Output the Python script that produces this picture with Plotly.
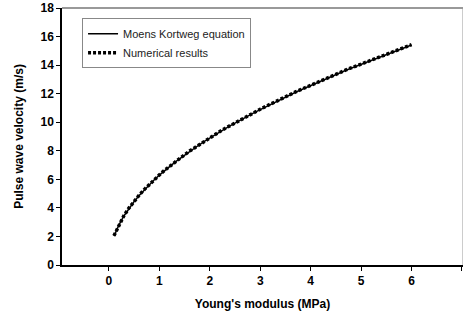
import plotly.graph_objects as go

modulus = [0.1, 0.2, 0.3, 0.4, 0.5, 0.6, 0.7, 0.8, 0.9, 1.0,
           1.1, 1.2, 1.3, 1.4, 1.5, 1.6, 1.7, 1.8, 1.9, 2.0,
           2.1, 2.2, 2.3, 2.4, 2.5, 2.6, 2.7, 2.8, 2.9, 3.0,
           3.1, 3.2, 3.3, 3.4, 3.5, 3.6, 3.7, 3.8, 3.9, 4.0,
           4.1, 4.2, 4.3, 4.4, 4.5, 4.6, 4.7, 4.8, 4.9, 5.0,
           5.1, 5.2, 5.3, 5.4, 5.5, 5.6, 5.7, 5.8, 5.9, 6.0]
moens_korteweg = [2.02, 2.81, 3.45, 3.98, 4.45, 4.87, 5.26, 5.63, 5.97, 6.29,
                  6.60, 6.89, 7.17, 7.44, 7.70, 7.96, 8.20, 8.44, 8.67, 8.90,
                  9.11, 9.33, 9.54, 9.74, 9.95, 10.14, 10.34, 10.52, 10.71, 10.89,
                  11.07, 11.25, 11.43, 11.60, 11.77, 11.93, 12.10, 12.26, 12.42, 12.58,
                  12.74, 12.89, 13.04, 13.19, 13.34, 13.49, 13.64, 13.78, 13.92, 14.06,
                  14.20, 14.34, 14.48, 14.62, 14.75, 14.88, 15.02, 15.15, 15.28, 15.41]
numerical = [2.05, 2.83, 3.47, 4.00, 4.47, 4.89, 5.28, 5.65, 5.99, 6.31,
             6.62, 6.91, 7.19, 7.46, 7.72, 7.98, 8.22, 8.46, 8.69, 8.92,
             9.13, 9.35, 9.56, 9.76, 9.97, 10.16, 10.36, 10.54, 10.73, 10.91,
             11.09, 11.27, 11.45, 11.62, 11.79, 11.95, 12.12, 12.28, 12.44, 12.60,
             12.76, 12.91, 13.06, 13.21, 13.36, 13.51, 13.66, 13.80, 13.94, 14.08,
             14.22, 14.36, 14.50, 14.64, 14.77, 14.90, 15.04, 15.17, 15.30, 15.43]

x_ticks = [0, 1, 2, 3, 4, 5, 6, 7]
y_ticks = [0, 2, 4, 6, 8, 10, 12, 14, 16, 18]

fig = go.Figure()
fig.add_trace(go.Scatter(x=modulus, y=moens_korteweg, mode="lines",
                         name="Moens Kortweg equation",
                         line=dict(color="black", width=1.5)))
fig.add_trace(go.Scatter(x=modulus, y=numerical, mode="lines",
                         name="Numerical results",
                         line=dict(color="black", width=3.5, dash="3px,2px")))

font_main = "Arial, Liberation Sans, sans-serif"
fig.update_layout(
    width=463, height=314,
    margin=dict(l=62, r=0, t=8, b=49),
    plot_bgcolor="white", paper_bgcolor="white",
    showlegend=True,
    legend=dict(x=0.05, y=0.96, xanchor="left", yanchor="top",
                bgcolor="white", bordercolor="#888", borderwidth=1,
                font=dict(family=font_main, size=11, color="#222"),
                tracegroupgap=0, itemwidth=30),
    xaxis=dict(range=[-0.93, 7.02], tickvals=x_ticks, ticks="outside", ticklen=4,
               tickcolor="black", showline=True, linecolor="black", linewidth=1.5,
               showgrid=False, zeroline=False, automargin=False,
               tickfont=dict(family=font_main, size=12, color="black", weight="bold"),
               title=dict(text="Young's modulus (MPa)", standoff=12,
                          font=dict(family=font_main, size=12, color="black", weight="bold"))),
    yaxis=dict(range=[0, 18], tickvals=y_ticks, ticks="outside", ticklen=4,
               tickcolor="black", showline=True, linecolor="black", linewidth=1.5,
               showgrid=False, zeroline=False, automargin=False,
               tickfont=dict(family=font_main, size=12, color="black", weight="bold"),
               title=dict(text="Pulse wave velocity (m/s)", standoff=14,
                          font=dict(family=font_main, size=12, color="black", weight="bold"))),
    shapes=[
        dict(type="line", xref="paper", yref="paper", x0=0, x1=1, y0=1, y1=1,
             line=dict(color="#777", width=1.5)),
        dict(type="line", xref="paper", yref="paper", x0=1, x1=1, y0=0, y1=1,
             line=dict(color="#999", width=1)),
    ],
)

fig.write_html("out.html", config={"displayModeBar": False},
               post_script="document.body.style.margin='0';")
